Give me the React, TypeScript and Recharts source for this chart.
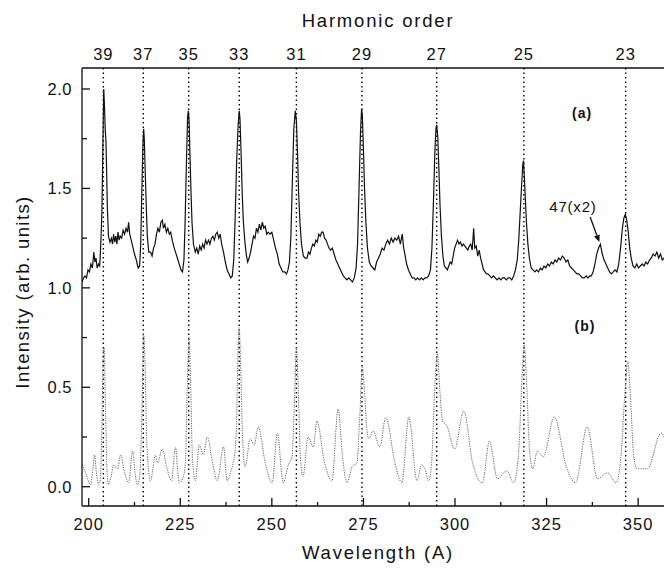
import { LineChart, Line, XAxis, YAxis, ReferenceLine, ReferenceDot } from 'recharts'

const harmonicOrders = [39, 37, 35, 33, 31, 29, 27, 25, 23]
const harmonicWavelengths = [204.0, 214.9, 227.3, 241.1, 256.7, 274.6, 295.0, 318.8, 346.6]

const wavelengthTicks = [200, 212.5, 225, 237.5, 250, 262.5, 275, 287.5, 300, 312.5, 325, 337.5, 350]
const intensityTicks = [0, 0.25, 0.5, 0.75, 1.0, 1.25, 1.5, 1.75, 2.0]

// (a) upper trace: [wavelength, intensity]
const traceA: [number, number][] = [
  [198.2, 1.03], [198.6, 1.05], [199.0, 1.06], [199.4, 1.05], [199.8, 1.09], [200.2, 1.08], [200.6, 1.12], [201.0, 1.10],
  [201.4, 1.18], [201.7, 1.13], [202.0, 1.15], [202.3, 1.10], [202.7, 1.12], [203.0, 1.11], [203.3, 1.22], [203.6, 1.38],
  [203.8, 1.62], [204.0, 1.88], [204.1, 2.00], [204.3, 1.92], [204.5, 1.80], [204.7, 1.74], [204.9, 1.58], [205.1, 1.40],
  [205.4, 1.26], [205.8, 1.23], [206.2, 1.25], [206.5, 1.22], [206.8, 1.27], [207.1, 1.23], [207.4, 1.26], [207.7, 1.22],
  [208.0, 1.28], [208.3, 1.24], [208.6, 1.26], [209.0, 1.25], [209.4, 1.29], [209.8, 1.27], [210.2, 1.30], [210.6, 1.28],
  [210.9, 1.33], [211.2, 1.27], [211.6, 1.24], [212.0, 1.21], [212.5, 1.17], [213.0, 1.14], [213.5, 1.10], [213.9, 1.11],
  [214.2, 1.22], [214.5, 1.48], [214.8, 1.72], [215.0, 1.80], [215.2, 1.74], [215.4, 1.60], [215.7, 1.42], [216.0, 1.26],
  [216.4, 1.18], [216.9, 1.18], [217.3, 1.16], [217.7, 1.20], [218.1, 1.22], [218.5, 1.27], [218.9, 1.30], [219.3, 1.28],
  [219.7, 1.33], [220.1, 1.34], [220.4, 1.30], [220.8, 1.32], [221.2, 1.28], [221.6, 1.30], [222.0, 1.27], [222.4, 1.28],
  [222.8, 1.24], [223.2, 1.21], [223.7, 1.18], [224.2, 1.15], [224.7, 1.12], [225.2, 1.09], [225.6, 1.08], [226.0, 1.14],
  [226.3, 1.32], [226.7, 1.64], [227.0, 1.86], [227.2, 1.89], [227.4, 1.84], [227.6, 1.70], [227.9, 1.50], [228.2, 1.33],
  [228.6, 1.22], [229.1, 1.18], [229.5, 1.20], [229.9, 1.17], [230.3, 1.21], [230.7, 1.19], [231.1, 1.22], [231.5, 1.20],
  [231.9, 1.24], [232.3, 1.22], [232.7, 1.24], [233.1, 1.22], [233.5, 1.25], [233.9, 1.26], [234.3, 1.24], [234.7, 1.27],
  [235.1, 1.28], [235.5, 1.25], [235.9, 1.27], [236.3, 1.22], [236.8, 1.18], [237.3, 1.13], [237.8, 1.09], [238.3, 1.07],
  [238.8, 1.05], [239.2, 1.06], [239.6, 1.14], [240.0, 1.36], [240.4, 1.64], [240.8, 1.82], [241.1, 1.89], [241.3, 1.85],
  [241.6, 1.68], [241.9, 1.48], [242.2, 1.34], [242.6, 1.24], [243.0, 1.17], [243.4, 1.13], [243.8, 1.15], [244.2, 1.18],
  [244.6, 1.22], [245.0, 1.26], [245.4, 1.25], [245.8, 1.30], [246.2, 1.28], [246.6, 1.32], [247.0, 1.29], [247.4, 1.33],
  [247.8, 1.30], [248.2, 1.31], [248.6, 1.27], [249.0, 1.28], [249.5, 1.27], [250.0, 1.28], [250.5, 1.24], [251.0, 1.20],
  [251.5, 1.17], [252.0, 1.12], [252.5, 1.10], [253.0, 1.08], [253.5, 1.08], [254.0, 1.07], [254.4, 1.09], [254.8, 1.13],
  [255.2, 1.26], [255.6, 1.54], [256.0, 1.80], [256.4, 1.89], [256.7, 1.84], [257.0, 1.68], [257.3, 1.48], [257.7, 1.32],
  [258.1, 1.22], [258.6, 1.16], [259.1, 1.15], [259.6, 1.15], [260.0, 1.18], [260.4, 1.17], [260.8, 1.20], [261.2, 1.22],
  [261.6, 1.21], [262.0, 1.24], [262.4, 1.23], [262.8, 1.27], [263.2, 1.26], [263.6, 1.28], [264.0, 1.28], [264.4, 1.25],
  [264.8, 1.24], [265.2, 1.22], [265.6, 1.20], [266.0, 1.19], [266.5, 1.20], [267.0, 1.17], [267.5, 1.14], [268.0, 1.12],
  [268.5, 1.10], [269.0, 1.08], [269.5, 1.06], [270.0, 1.05], [270.5, 1.04], [271.0, 1.05], [271.5, 1.04], [272.0, 1.03],
  [272.5, 1.05], [273.0, 1.10], [273.4, 1.22], [273.8, 1.50], [274.2, 1.78], [274.5, 1.90], [274.7, 1.87], [275.0, 1.70],
  [275.3, 1.50], [275.7, 1.32], [276.1, 1.20], [276.6, 1.13], [277.1, 1.11], [277.6, 1.10], [278.1, 1.09], [278.6, 1.13],
  [279.1, 1.15], [279.6, 1.17], [280.1, 1.20], [280.6, 1.19], [281.1, 1.22], [281.6, 1.24], [282.1, 1.22], [282.6, 1.25],
  [283.1, 1.23], [283.6, 1.25], [284.1, 1.24], [284.6, 1.26], [285.1, 1.22], [285.6, 1.27], [286.0, 1.20], [286.4, 1.16],
  [286.8, 1.12], [287.3, 1.09], [287.8, 1.07], [288.3, 1.05], [288.8, 1.05], [289.3, 1.04], [289.8, 1.05], [290.3, 1.04],
  [290.8, 1.05], [291.3, 1.04], [291.8, 1.05], [292.3, 1.05], [292.8, 1.06], [293.3, 1.09], [293.7, 1.20], [294.1, 1.42],
  [294.5, 1.68], [294.8, 1.80], [295.0, 1.82], [295.3, 1.76], [295.6, 1.60], [295.9, 1.42], [296.3, 1.26], [296.7, 1.16],
  [297.1, 1.11], [297.5, 1.10], [297.9, 1.09], [298.3, 1.11], [298.7, 1.13], [299.1, 1.12], [299.5, 1.16], [299.9, 1.20],
  [300.3, 1.22], [300.7, 1.24], [301.1, 1.22], [301.5, 1.23], [301.9, 1.21], [302.3, 1.22], [302.7, 1.21], [303.1, 1.20],
  [303.5, 1.19], [303.9, 1.21], [304.3, 1.22], [304.7, 1.19], [305.1, 1.30], [305.4, 1.20], [305.8, 1.21], [306.2, 1.16],
  [306.6, 1.19], [307.0, 1.15], [307.4, 1.12], [307.8, 1.09], [308.2, 1.08], [308.6, 1.07], [309.0, 1.07], [309.5, 1.06],
  [310.0, 1.05], [310.5, 1.06], [311.0, 1.05], [311.5, 1.04], [312.0, 1.05], [312.5, 1.04], [313.0, 1.05], [313.5, 1.05],
  [314.0, 1.04], [314.5, 1.05], [315.0, 1.05], [315.5, 1.04], [316.0, 1.06], [316.5, 1.09], [317.0, 1.14], [317.4, 1.24],
  [317.8, 1.38], [318.2, 1.52], [318.5, 1.62], [318.7, 1.64], [318.9, 1.57], [319.2, 1.45], [319.5, 1.33], [319.9, 1.22],
  [320.3, 1.15], [320.8, 1.10], [321.3, 1.09], [321.8, 1.08], [322.3, 1.09], [322.8, 1.08], [323.3, 1.10], [323.8, 1.09],
  [324.3, 1.11], [324.8, 1.10], [325.3, 1.12], [325.8, 1.11], [326.3, 1.13], [326.8, 1.12], [327.3, 1.14], [327.8, 1.13],
  [328.3, 1.15], [328.8, 1.14], [329.3, 1.16], [329.8, 1.15], [330.3, 1.13], [330.8, 1.14], [331.3, 1.11], [331.8, 1.10],
  [332.3, 1.09], [332.8, 1.08], [333.3, 1.07], [333.8, 1.07], [334.3, 1.06], [334.8, 1.05], [335.3, 1.05], [335.8, 1.06],
  [336.3, 1.05], [336.8, 1.06], [337.2, 1.06], [337.7, 1.08], [338.2, 1.12], [338.7, 1.17], [339.2, 1.20], [339.7, 1.22],
  [340.2, 1.17], [340.7, 1.14], [341.2, 1.12], [341.7, 1.10], [342.2, 1.08], [342.7, 1.07], [343.2, 1.08], [343.7, 1.09],
  [344.2, 1.08], [344.7, 1.12], [345.2, 1.20], [345.7, 1.30], [346.1, 1.35], [346.5, 1.37], [346.9, 1.34], [347.3, 1.28],
  [347.7, 1.20], [348.1, 1.15], [348.6, 1.11], [349.1, 1.10], [349.6, 1.12], [350.1, 1.10], [350.6, 1.11], [351.1, 1.12],
  [351.6, 1.11], [352.1, 1.13], [352.6, 1.12], [353.1, 1.14], [353.6, 1.15], [354.1, 1.17], [354.6, 1.16], [355.1, 1.18],
  [355.6, 1.15], [356.1, 1.17], [356.6, 1.14], [357.1, 1.15], [357.6, 1.12], [358.1, 1.13], [358.6, 1.11], [359.2, 1.10],
  [359.8, 1.11],
]

// (b) lower trace: [wavelength, intensity]
const traceB: [number, number][] = [
  [198.2, 0.11], [199.2, 0.07], [200.5, 0.01], [201.1, 0.08], [201.6, 0.16], [202.1, 0.07], [202.7, 0.01], [203.2, 0.04],
  [203.6, 0.30], [204.0, 0.68], [204.2, 0.70], [204.6, 0.38], [205.0, 0.08], [205.4, 0.01], [206.1, 0.05], [206.8, 0.11],
  [207.9, 0.09], [208.7, 0.16], [209.8, 0.07], [210.9, 0.02], [212.0, 0.18], [212.7, 0.06], [213.3, 0.01], [213.9, 0.05],
  [214.5, 0.35], [215.0, 0.77], [215.4, 0.60], [215.9, 0.20], [216.9, 0.03], [217.6, 0.10], [218.2, 0.16], [218.8, 0.12],
  [220.1, 0.19], [221.4, 0.09], [222.6, 0.03], [223.7, 0.20], [224.3, 0.08], [224.8, 0.02], [225.8, 0.05], [226.4, 0.12],
  [226.9, 0.50], [227.4, 0.75], [227.8, 0.55], [228.3, 0.15], [229.1, 0.03], [230.2, 0.21], [231.3, 0.16], [232.4, 0.25],
  [233.8, 0.12], [235.1, 0.03], [236.8, 0.20], [237.8, 0.03], [239.0, 0.09], [239.5, 0.12], [240.3, 0.28], [240.8, 0.70],
  [241.1, 0.80], [241.5, 0.60], [242.0, 0.25], [242.7, 0.10], [244.1, 0.24], [245.2, 0.21], [246.3, 0.30], [248.2, 0.12],
  [250.1, 0.02], [251.5, 0.27], [253.1, 0.02], [254.5, 0.11], [255.5, 0.15], [256.2, 0.45], [256.7, 0.70], [257.2, 0.50],
  [257.8, 0.15], [258.5, 0.05], [259.9, 0.25], [261.3, 0.20], [262.3, 0.33], [264.4, 0.12], [266.4, 0.03], [268.1, 0.39],
  [269.3, 0.15], [270.5, 0.02], [271.9, 0.10], [273.2, 0.12], [274.0, 0.35], [274.7, 0.60], [275.3, 0.48], [276.0, 0.28],
  [276.5, 0.24], [277.6, 0.28], [279.5, 0.20], [281.1, 0.35], [283.6, 0.12], [285.5, 0.02], [287.4, 0.35], [289.6, 0.03],
  [290.9, 0.11], [291.8, 0.09], [292.8, 0.03], [293.6, 0.12], [294.5, 0.50], [295.2, 0.67], [295.8, 0.50], [296.6, 0.33],
  [297.7, 0.31], [299.9, 0.19], [302.4, 0.38], [304.8, 0.12], [307.5, 0.02], [309.4, 0.23], [311.6, 0.04], [314.1, 0.08],
  [316.0, 0.02], [317.3, 0.15], [318.3, 0.55], [318.9, 0.72], [319.5, 0.55], [320.3, 0.20], [321.2, 0.09], [322.5, 0.18],
  [324.1, 0.15], [327.1, 0.35], [330.4, 0.10], [332.9, 0.02], [336.1, 0.30], [338.9, 0.04], [341.6, 0.07], [344.0, 0.02],
  [345.3, 0.15], [346.5, 0.50], [347.2, 0.63], [347.9, 0.45], [348.8, 0.15], [349.7, 0.09], [352.5, 0.09], [356.3, 0.27],
  [359.0, 0.12], [359.8, 0.08],
]

const dataA = traceA.map(([wl, v]) => ({ wl, v }))
const dataB = traceB.map(([wl, v]) => ({ wl, v }))

const font = '"Liberation Sans", Arial, Helvetica, sans-serif'
const ink = '#111'
const xDomain = [198.17, 359.79]
const yDomain = [-0.097, 2.1056]

function BottomTick({ x, y, payload }: any) {
  const major = payload.value % 25 === 0
  return (
    <g>
      <line x1={x} x2={x} y1={y} y2={y - (major ? 8 : 4)} stroke={ink} strokeWidth={1.3} />
      {major && (
        <text x={x} y={y + 24} textAnchor="middle" fontSize={16.5} letterSpacing={1} fill={ink} fontFamily={font}>
          {payload.value}
        </text>
      )}
    </g>
  )
}

function TopTick({ x, y, payload }: any) {
  const idx = harmonicWavelengths.indexOf(payload.value)
  return (
    <text x={x} y={y - 8} textAnchor="middle" fontSize={16.5} letterSpacing={1} fill={ink} fontFamily={font}>
      {harmonicOrders[idx]}
    </text>
  )
}

function LeftTick({ x, y, payload }: any) {
  const major = Math.abs(payload.value * 2 - Math.round(payload.value * 2)) < 1e-6
  return (
    <g>
      <line x1={x} x2={x + (major ? 8 : 5)} y1={y} y2={y} stroke={ink} strokeWidth={1.3} />
      {major && (
        <text x={x - 10} y={y} dy="0.36em" textAnchor="end" fontSize={16.5} letterSpacing={0.5} fill={ink} fontFamily={font}>
          {payload.value.toFixed(1)}
        </text>
      )}
    </g>
  )
}

function RightTick({ x, y, payload }: any) {
  const major = Math.abs(payload.value * 2 - Math.round(payload.value * 2)) < 1e-6
  return <line x1={x} x2={x - (major ? 8 : 5)} y1={y} y2={y} stroke={ink} strokeWidth={1.3} />
}

function Arrow(props: any) {
  const { x1, y1, x2, y2 } = props
  const ang = Math.atan2(y2 - y1, x2 - x1)
  const len = 7
  const w = 3
  const bx = x2 - len * Math.cos(ang)
  const by = y2 - len * Math.sin(ang)
  const px = -Math.sin(ang) * w
  const py = Math.cos(ang) * w
  return (
    <g>
      <line x1={x1} y1={y1} x2={bx} y2={by} stroke={ink} strokeWidth={1.3} />
      <polygon points={`${x2},${y2} ${bx + px},${by + py} ${bx - px},${by - py}`} fill={ink} />
    </g>
  )
}

export default function App() {
  return (
    <div style={{ width: 664, height: 555, overflow: 'hidden' }}>
      <LineChart width={668} height={555} margin={{ top: 0, right: 0, bottom: 0, left: 0 }}>
        <XAxis
          dataKey="wl"
          type="number"
          domain={xDomain}
          allowDataOverflow
          ticks={wavelengthTicks}
          interval={0}
          tickSize={0}
          tickMargin={0}
          tickLine={false}
          tick={<BottomTick />}
          axisLine={{ stroke: ink, strokeWidth: 1.3 }}
          height={57}
          label={{
            content: ({ viewBox }: any) => (
              <text x={viewBox.x + viewBox.width / 2} y={551} textAnchor="middle" fontSize={18.5} letterSpacing={1.8} fill={ink} fontFamily={font}>
                Wavelength (A)
              </text>
            ),
          }}
        />
        <XAxis
          xAxisId="top"
          orientation="top"
          dataKey="wl"
          type="number"
          domain={xDomain}
          allowDataOverflow
          ticks={harmonicWavelengths}
          interval={0}
          tickSize={0}
          tickMargin={0}
          tickLine={false}
          tick={<TopTick />}
          axisLine={{ stroke: ink, strokeWidth: 1.3 }}
          height={60}
          label={{
            content: ({ viewBox }: any) => (
              <text x={viewBox.x + viewBox.width / 2} y={19} textAnchor="middle" fontSize={18.5} letterSpacing={1.8} fill={ink} fontFamily={font}>
                Harmonic order
              </text>
            ),
          }}
        />
        <YAxis
          type="number"
          domain={yDomain}
          allowDataOverflow
          ticks={intensityTicks}
          interval={0}
          tickSize={0}
          tickMargin={0}
          tickLine={false}
          tick={<LeftTick />}
          axisLine={{ stroke: ink, strokeWidth: 1.3 }}
          width={74}
          label={{
            content: ({ viewBox }: any) => {
              const cy = viewBox.y + viewBox.height / 2 + 5
              return (
                <text x={21} y={cy} transform={`rotate(-90 21 ${cy})`} textAnchor="middle" fontSize={18.5} letterSpacing={1.4} fill={ink} fontFamily={font}>
                  Intensity (arb. units)
                </text>
              )
            },
          }}
        />
        <YAxis
          yAxisId="right"
          orientation="right"
          type="number"
          domain={yDomain}
          allowDataOverflow
          ticks={intensityTicks}
          interval={0}
          tickSize={0}
          tickMargin={0}
          tickLine={false}
          tick={<RightTick />}
          axisLine={{ stroke: ink, strokeWidth: 1.3 }}
          width={2}
        />
        {harmonicWavelengths.map((wl) => (
          <ReferenceLine key={wl} x={wl} stroke="#000" strokeWidth={1.4} strokeDasharray="1.5 3" />
        ))}
        <Line data={dataB} dataKey="v" type="monotone" stroke="#666" strokeWidth={1} strokeDasharray="1.2 1.2" dot={false} isAnimationActive={false} />
        <Line data={dataA} dataKey="v" type="linear" stroke="#111" strokeWidth={1.2} dot={false} isAnimationActive={false} />
        <ReferenceDot x={334.7} y={1.88} r={0} fill="none" stroke="none"
          label={{ value: '(a)', position: 'center', fontSize: 14, fontWeight: 'bold', fill: ink, fontFamily: font, letterSpacing: 1 }} />
        <ReferenceDot x={335.5} y={0.81} r={0} fill="none" stroke="none"
          label={{ value: '(b)', position: 'center', fontSize: 14, fontWeight: 'bold', fill: ink, fontFamily: font, letterSpacing: 1 }} />
        <ReferenceDot x={332.2} y={1.41} r={0} fill="none" stroke="none"
          label={{ value: '47(x2)', position: 'center', fontSize: 15, fill: ink, fontFamily: font, letterSpacing: 0.8 }} />
        <ReferenceLine segment={[{ x: 336.9, y: 1.356 }, { x: 339.4, y: 1.23 }]} shape={<Arrow />} />
      </LineChart>
    </div>
  )
}
